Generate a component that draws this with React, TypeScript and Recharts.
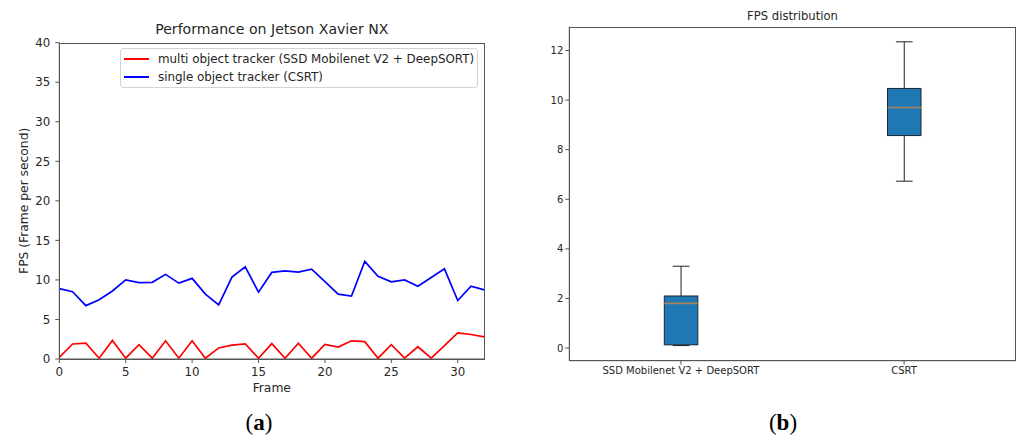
import React from "react";
import {
  LineChart,
  Line,
  XAxis,
  YAxis,
  Label,
  ComposedChart,
  Bar,
} from "recharts";

// frame index (x axis of panel a)
const frames = [
  0, 1, 2, 3, 4, 5, 6, 7, 8, 9, 10, 11, 12, 13, 14, 15, 16, 17, 18, 19, 20,
  21, 22, 23, 24, 25, 26, 27, 28, 29, 30, 31, 32,
];

// FPS per frame
const multiTracker = [
  0.2, 1.9, 2.0, 0.1, 2.35, 0.1, 1.8, 0.1, 2.3, 0.1, 2.3, 0.1, 1.4, 1.75, 1.9,
  0.1, 1.95, 0.1, 2.0, 0.1, 1.85, 1.5, 2.3, 2.2, 0.1, 1.8, 0.1, 1.55, 0.1, 1.7,
  3.3, 3.1, 2.8,
];
const singleTracker = [
  8.9, 8.5, 6.75, 7.5, 8.6, 10.0, 9.65, 9.7, 10.7, 9.6, 10.2, 8.2, 6.85, 10.35,
  11.65, 8.45, 10.95, 11.15, 11.0, 11.35, 9.8, 8.2, 7.95, 12.35, 10.45, 9.75,
  10.0, 9.2, 10.3, 11.4, 7.4, 9.2, 8.75,
];

const seriesNames = [
  "multi object tracker (SSD Mobilenet V2 + DeepSORT)",
  "single object tracker (CSRT)",
];
const seriesColors = ["#ff0000", "#0000ff"];

const frameTicks = [0, 5, 10, 15, 20, 25, 30];
const fpsTicks = [0, 5, 10, 15, 20, 25, 30, 35, 40];

// box plot stats (panel b)
const boxCategories = ["SSD Mobilenet V2 + DeepSORT", "CSRT"];
const boxMin = [0.1, 6.73];
const boxQ1 = [0.13, 8.57];
const boxMedian = [1.8, 9.7];
const boxQ3 = [2.1, 10.47];
const boxMax = [3.3, 12.35];
const boxTicks = [0, 2, 4, 6, 8, 10, 12];

const lineData = frames.map((f, i) => ({
  frame: f,
  multi: multiTracker[i],
  single: singleTracker[i],
}));

const boxData = boxCategories.map((name, i) => ({
  name,
  min: boxMin[i],
  q1: boxQ1[i],
  median: boxMedian[i],
  q3: boxQ3[i],
  max: boxMax[i],
}));

const FONT = "'DejaVu Sans', sans-serif";
const SPINE = "#555";
const TEXT = "#262626";

// draws whiskers, box and median inside the bar spanning [min, max]
const BoxShape = (props: any) => {
  const { x, y, width, height, payload } = props;
  const span = payload.max - payload.min;
  const toPx = (v: number) => y + ((payload.max - v) / span) * height;
  const cx = x + width / 2;
  const cap = width / 4;
  const top = toPx(payload.q3);
  const bottom = toPx(payload.q1);
  return (
    <g>
      <line x1={cx} x2={cx} y1={toPx(payload.max)} y2={top} stroke="#222" strokeWidth={1} />
      <line x1={cx} x2={cx} y1={bottom} y2={toPx(payload.min)} stroke="#222" strokeWidth={1} />
      <line x1={cx - cap} x2={cx + cap} y1={toPx(payload.max)} y2={toPx(payload.max)} stroke="#222" strokeWidth={1} />
      <line x1={cx - cap} x2={cx + cap} y1={toPx(payload.min)} y2={toPx(payload.min)} stroke="#222" strokeWidth={1} />
      <rect x={x} y={top} width={width} height={bottom - top} fill="#1f77b4" stroke="#1a2633" strokeWidth={1} />
      <line x1={x} x2={x + width} y1={toPx(payload.median)} y2={toPx(payload.median)} stroke="#a8835a" strokeWidth={1.6} />
    </g>
  );
};

const Frame = ({ left, top, width, height }: any) => (
  <div
    style={{
      position: "absolute",
      left,
      top,
      width,
      height,
      border: `1px solid ${SPINE}`,
      boxSizing: "border-box",
      pointerEvents: "none",
    }}
  />
);

const App = () => {
  return (
    <div
      style={{
        position: "absolute",
        left: 0,
        top: 0,
        width: 1017,
        height: 436,
        background: "white",
        fontFamily: FONT,
        overflow: "hidden",
      }}
    >
      {/* (a) line chart */}
      <div style={{ position: "absolute", left: 0, top: 0 }}>
        <LineChart
          width={500}
          height={400}
          data={lineData}
          margin={{ top: 42.7, right: 15.7, left: 19.3, bottom: 17 }}
        >
          <XAxis
            dataKey="frame"
            type="number"
            domain={[0, 32]}
            ticks={frameTicks}
            height={24}
            stroke={SPINE}
            tickSize={4}
            tickMargin={5}
            tick={{ fill: TEXT, fontSize: 11.8, fontFamily: FONT }}
          >
            <Label value="Frame" position="bottom" offset={0} fill={TEXT} fontSize={12.3} fontFamily={FONT} />
          </XAxis>
          <YAxis
            type="number"
            domain={[0, 40]}
            ticks={fpsTicks}
            width={40}
            stroke={SPINE}
            tickSize={4}
            tickMargin={5}
            tick={{ fill: TEXT, fontSize: 11.8, fontFamily: FONT }}
          >
            <Label
              value="FPS (Frame per second)"
              angle={-90}
              position="insideLeft"
              offset={4}
              fill={TEXT}
              fontSize={12.3}
              fontFamily={FONT}
              style={{ textAnchor: "middle" }}
            />
          </YAxis>
          <Line
            dataKey="multi"
            stroke={seriesColors[0]}
            strokeWidth={1.7}
            dot={false}
            isAnimationActive={false}
          />
          <Line
            dataKey="single"
            stroke={seriesColors[1]}
            strokeWidth={1.7}
            dot={false}
            isAnimationActive={false}
          />
        </LineChart>
      </div>
      <Frame left={59.3} top={42.7} width={425.5} height={317} />

      <div
        style={{
          position: "absolute",
          left: 271.8,
          top: 29.3,
          transform: "translate(-50%, -50%)",
          fontSize: 14.1,
          color: TEXT,
          whiteSpace: "nowrap",
        }}
      >
        Performance on Jetson Xavier NX
      </div>

      {/* legend */}
      <div
        style={{
          position: "absolute",
          left: 120,
          top: 47.7,
          width: 358,
          height: 40,
          border: "1px solid #d4d4d4",
          borderRadius: 3,
          boxSizing: "border-box",
          background: "rgba(255,255,255,0.8)",
        }}
      >
        {seriesNames.map((name, i) => (
          <div
            key={name}
            style={{
              position: "absolute",
              left: 3,
              top: 3 + i * 18.5,
              height: 14,
              display: "flex",
              alignItems: "center",
              whiteSpace: "nowrap",
            }}
          >
            <span
              style={{
                display: "inline-block",
                width: 25,
                height: 1.7,
                background: seriesColors[i],
                marginRight: 9,
              }}
            />
            <span style={{ fontSize: 11.9, color: TEXT }}>{name}</span>
          </div>
        ))}
      </div>

      <div
        style={{
          position: "absolute",
          left: 259,
          top: 423,
          transform: "translate(-50%, -50%)",
          fontFamily: "'Liberation Serif', serif",
          fontSize: 23,
          color: "#000",
        }}
      >
        (<b>a</b>)
      </div>

      {/* (b) box plot */}
      <div style={{ position: "absolute", left: 520, top: 0 }}>
        <ComposedChart
          width={497}
          height={400}
          data={boxData}
          margin={{ top: 26.7, right: 1.3, left: 19.3, bottom: 14.3 }}
        >
          <XAxis
            dataKey="name"
            type="category"
            height={25}
            stroke={SPINE}
            tickSize={4}
            tickMargin={2}
            tick={{ fill: TEXT, fontSize: 10, fontFamily: FONT }}
          />
          <YAxis
            type="number"
            domain={[-0.51, 12.96]}
            ticks={boxTicks}
            width={30}
            stroke={SPINE}
            tickSize={4}
            tickMargin={2}
            tick={{ fill: TEXT, fontSize: 10, fontFamily: FONT }}
          />
          <Bar
            dataKey={(d: any) => [d.min, d.max]}
            barSize={33.5}
            shape={<BoxShape />}
            isAnimationActive={false}
          />
        </ComposedChart>
      </div>
      <Frame left={569.3} top={26.7} width={446.4} height={334} />

      <div
        style={{
          position: "absolute",
          left: 792.5,
          top: 16,
          transform: "translate(-50%, -50%)",
          fontSize: 11.6,
          color: TEXT,
          whiteSpace: "nowrap",
        }}
      >
        FPS distribution
      </div>

      <div
        style={{
          position: "absolute",
          left: 783,
          top: 423,
          transform: "translate(-50%, -50%)",
          fontFamily: "'Liberation Serif', serif",
          fontSize: 23,
          color: "#000",
        }}
      >
        (<b>b</b>)
      </div>
    </div>
  );
};

export default App;
